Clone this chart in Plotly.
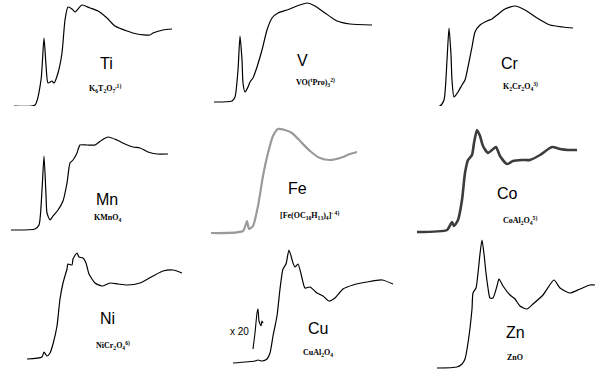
import plotly.graph_objects as go

# ---- data (panel-local energy index, absorbance) ----
ti_e = [14, 35, 41, 44, 46, 48, 52, 54, 58, 62, 65, 68, 72, 75, 82, 90, 98, 107, 115, 127, 137, 150, 153, 163, 172]
ti_mu = [17, 18, 43, 85, 58, 40, 42, 40, 50, 70, 103, 116, 114, 111, 118, 115, 112, 105, 97, 92, 89, 88, 90, 93, 94]

v_e = [14, 32, 35, 38, 40, 42, 43, 45, 48, 50, 53, 57, 62, 67, 72, 78, 87, 97, 107, 115, 125, 137, 150, 172]
v_mu = [21, 22, 26, 53, 87, 63, 40, 31, 36, 41, 45, 56, 73, 93, 105, 110, 113, 117, 120, 117, 110, 102, 99, 98]

cr_e = [14, 40, 44, 47, 49, 51, 52, 54, 58, 62, 65, 68, 72, 75, 80, 87, 92, 97, 105, 115, 125, 137, 150, 163, 173]
cr_mu = [16, 17, 23, 63, 95, 68, 43, 26, 31, 38, 43, 56, 76, 91, 98, 102, 104, 108, 114, 117, 113, 105, 98, 96, 95]

mn_e = [11, 35, 39, 42, 44, 46, 47, 50, 53, 58, 63, 67, 70, 73, 77, 80, 87, 95, 102, 108, 117, 125, 133, 140, 148, 157, 168]
mn_mu = [16, 17, 21, 56, 90, 51, 33, 26, 30, 36, 45, 63, 83, 86, 93, 101, 101, 101, 106, 109, 106, 102, 99, 98, 94, 92, 92]

fe_e = [11, 43, 47, 49, 53, 58, 63, 68, 73, 78, 85, 92, 100, 110, 120, 130, 140, 150, 157]
fe_mu = [13, 15, 25, 17, 20, 40, 70, 93, 110, 117, 116, 113, 105, 95, 88, 86, 88, 92, 94]

co_e = [17, 47, 52, 54, 58, 62, 65, 68, 72, 74, 77, 80, 83, 88, 92, 96, 100, 107, 113, 122, 130, 140, 152, 160, 168, 177]
co_mu = [14, 16, 24, 20, 26, 46, 73, 86, 91, 103, 116, 110, 100, 93, 96, 99, 90, 82, 85, 86, 86, 91, 99, 97, 96, 96]

ni_e = [27, 42, 44, 47, 50, 53, 57, 60, 63, 67, 68, 72, 73, 77, 79, 83, 86, 89, 95, 102, 110, 118, 127, 140, 153, 163, 173, 182]
ni_mu = [10, 12, 17, 13, 16, 25, 43, 70, 86, 100, 105, 104, 110, 116, 112, 111, 106, 95, 86, 83, 86, 85, 84, 86, 93, 98, 99, 96]

cu_e = [33, 55, 58, 62, 67, 70, 73, 77, 80, 83, 86, 89, 93, 95, 98, 102, 105, 110, 117, 123, 129, 135, 143, 153, 167, 182, 193]
cu_mu = [6, 8, 9, 8, 10, 16, 33, 53, 80, 100, 105, 119, 106, 102, 105, 91, 81, 82, 76, 73, 68, 71, 80, 84, 87, 89, 85]

cu_x20_e = [53, 55, 57, 58, 59, 61, 62, 63]
cu_x20_mu = [20, 36, 56, 60, 48, 43, 48, 46]

zn_e = [37, 57, 62, 65, 68, 72, 73, 76, 78, 80, 82, 84, 86, 88, 90, 93, 97, 99, 103, 110, 115, 120, 127, 133, 143, 154, 160, 170, 180, 190, 195]
zn_mu = [1, 2, 5, 10, 26, 60, 76, 81, 96, 115, 129, 115, 96, 81, 71, 71, 83, 90, 83, 74, 70, 63, 60, 65, 74, 89, 81, 76, 80, 84, 84]

elements = ["Ti", "V", "Cr", "Mn", "Fe", "Co", "Ni", "Cu", "Zn"]
compounds = [
    "K<sub>6</sub>T<sub>2</sub>O<sub>7</sub><sup>,1)</sup>",
    "VO(<sup>t</sup>Pro)<sub>3</sub><sup>2)</sup>",
    "K<sub>2</sub>Cr<sub>2</sub>O<sub>4</sub><sup>3)</sup>",
    "KMnO<sub>4</sub>",
    "[Fe(OC<sub>10</sub>H<sub>13</sub>)<sub>4</sub>]<sup>- 4)</sup>",
    "CoAl<sub>2</sub>O<sub>4</sub><sup>5)</sup>",
    "NiCr<sub>2</sub>O<sub>4</sub><sup>6)</sup>",
    "CuAl<sub>2</sub>O<sub>4</sub>",
    "ZnO",
]
series = [(ti_e, ti_mu), (v_e, v_mu), (cr_e, cr_mu), (mn_e, mn_mu), (fe_e, fe_mu),
          (co_e, co_mu), (ni_e, ni_mu), (cu_e, cu_mu), (zn_e, zn_mu)]

# styles / layout (not data)
colors = ["black"] * 9
widths = [1.2] * 9
colors[4] = "#9a9a9a"; widths[4] = 2.2
colors[5] = "#3c3c3c"; widths[5] = 2.6
elem_pos = [(106, 60), (102, 63), (110, 60), (107, 47), (97, 58), (107, 53), (107, 51), (118, 41), (115, 37)]
comp_pos = [(105, 35), (115, 41), (120, 37), (107, 28), (109, 31), (120, 26), (113, 24), (118, 16), (115, 12)]

W, H = 605, 369
fig = go.Figure()
layout = dict(width=W, height=H, margin=dict(l=0, r=0, t=0, b=0),
              paper_bgcolor="white", plot_bgcolor="white", showlegend=False)
annotations = []
for i in range(9):
    r, c = divmod(i, 3)
    x0 = 200 * c
    pw = 205 if c == 2 else 200
    bottom = 123 * (r + 1)
    top_ext = min(140, bottom)
    xa = "xaxis" if i == 0 else f"xaxis{i+1}"
    ya = "yaxis" if i == 0 else f"yaxis{i+1}"
    xr = "x" if i == 0 else f"x{i+1}"
    yr = "y" if i == 0 else f"y{i+1}"
    layout[xa] = dict(domain=[x0 / W, (x0 + pw) / W], range=[0, pw], visible=False,
                      anchor=yr, fixedrange=True)
    layout[ya] = dict(domain=[1 - bottom / H, 1 - (bottom - top_ext) / H], range=[0, top_ext],
                      visible=False, anchor=xr, fixedrange=True)
    e, mu = series[i]
    fig.add_trace(go.Scatter(x=e, y=mu, mode="lines", xaxis=xr, yaxis=yr,
                             line=dict(color=colors[i], width=widths[i], shape="spline", smoothing=0.6),
                             hoverinfo="skip"))
    annotations.append(dict(x=elem_pos[i][0], y=elem_pos[i][1], xref=xr, yref=yr, text=elements[i],
                            showarrow=False, font=dict(family="Liberation Sans, Arial", size=16, color="black")))
    annotations.append(dict(x=comp_pos[i][0], y=comp_pos[i][1], xref=xr, yref=yr, text="<b>" + compounds[i] + "</b>",
                            showarrow=False, font=dict(family="Liberation Serif, Times New Roman", size=8, color="black")))
    if i == 7:
        fig.add_trace(go.Scatter(x=cu_x20_e, y=cu_x20_mu, mode="lines", xaxis=xr, yaxis=yr,
                                 line=dict(color="black", width=1.1, shape="spline", smoothing=0.5),
                                 hoverinfo="skip"))
        annotations.append(dict(x=39, y=38, xref=xr, yref=yr, text="x 20", showarrow=False,
                                font=dict(family="Liberation Sans, Arial", size=10, color="black")))

layout["annotations"] = annotations
fig.update_layout(**layout)
fig.write_html("out.html")
